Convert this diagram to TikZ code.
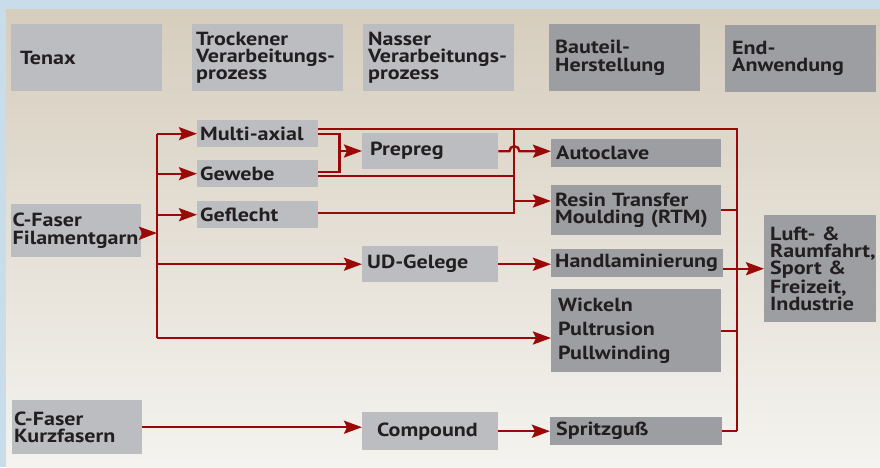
\documentclass[tikz,border=0pt]{standalone}
\usepackage{fontspec}
\setmainfont{PT Sans}[FakeStretch=1.16]
\usetikzlibrary{positioning,arrows.meta}
\definecolor{outerblue}{RGB}{200,220,234}
\definecolor{paneltop}{RGB}{214,205,189}
\definecolor{panelbottom}{RGB}{244,243,239}
\definecolor{boxlight}{RGB}{188,189,193}
\definecolor{boxdark}{RGB}{157,158,162}
\definecolor{textdark}{RGB}{35,31,32}
\definecolor{flowred}{RGB}{155,8,8}
\tikzset{lightbox/.style = {fill=boxlight, anchor=north west, inner ysep=0pt, align=left, text=textdark, font=\fontsize{19}{17.2}\selectfont\bfseries}}
\tikzset{darkbox/.style = {lightbox, fill=boxdark}}
\tikzset{flow/.style = {draw=flowred, line width=2.4pt}}

\begin{document}
\begin{tikzpicture}[x=1pt, y=-1pt, >={Stealth[length=18pt, width=13pt, inset=3pt]}]
  \useasboundingbox (0,0) rectangle (880,467);
  \fill[outerblue] (0,0) rectangle (880,467);
  \shade[top color=paneltop, bottom color=panelbottom] (6,9) rectangle (880,467);

  % Kopfzeile
  \node [lightbox, minimum height=67pt, inner xsep=9pt, text width=133pt] (tx) at (11,24) {Tenax};
  \node [lightbox, minimum height=67pt, inner xsep=4pt, text width=143pt] (tv) at (192,24) {Trockener\\Verarbeitungs-\\prozess};
  \node [lightbox, minimum height=67pt, inner xsep=5pt, text width=141pt] (nv) at (363,24) {Nasser\\Verarbeitungs-\\prozess};
  \node [darkbox, minimum height=67pt, inner xsep=6pt, text width=139pt] (bh) at (549,24) {Bauteil-\\Herstellung};
  \node [darkbox, minimum height=67pt, inner xsep=7pt, text width=137pt] (ea) at (725,25) {End-\\Anwendung};

  % Fasern
  \node [lightbox, minimum height=53pt, inner xsep=1.5pt, text width=127pt] (fg) at (11,204) {C-Faser\\Filamentgarn};
  \node [lightbox, minimum height=54pt, inner xsep=2pt, text width=126pt] (kf) at (12,400) {C-Faser\\Kurzfasern};

  % Halbzeuge
  \node [lightbox, minimum height=27pt, inner xsep=3pt, text width=115pt] (ma) at (197,120) {Multi-axial};
  \node [lightbox, minimum height=27pt, inner xsep=3pt, text width=115pt] (gw) at (197,160) {Gewebe};
  \node [lightbox, minimum height=27pt, inner xsep=3pt, text width=115pt] (gf) at (197,201) {Geflecht};
  \node [lightbox, minimum height=36pt, inner xsep=8pt, text width=120pt] (pp) at (362,133) {Prepreg};
  \node [lightbox, minimum height=36pt, inner xsep=5pt, text width=126pt] (ud) at (362,246) {UD-Gelege};
  \node [lightbox, minimum height=38pt, inner xsep=15pt, text width=106pt] (cp) at (362,412) {Compound};

  % Bauteilherstellung
  \node [darkbox, minimum height=28pt, inner xsep=5pt, text width=160pt] (ac) at (551,139) {Autoclave};
  \node [darkbox, minimum height=50pt, inner xsep=4pt, text width=162pt] (rtm) at (551,185) {Resin Transfer\\Moulding (RTM)};
  \node [darkbox, minimum height=28pt, inner xsep=4pt, text width=164pt] (hl) at (551,249) {Handlaminierung};
  \node [darkbox, minimum height=83pt, inner xsep=7pt, text width=156pt, font=\fontsize{19}{24}\selectfont\bfseries] (wpp) at (551,289) {Wickeln\\Pultrusion\\Pullwinding};
  \node [darkbox, minimum height=28pt, inner xsep=6pt, text width=160pt] (sg) at (550,417) {Spritzguß};
  \node [darkbox, minimum height=107pt, inner xsep=6pt, text width=100pt] (lu) at (764,215) {Luft- \&\\Raumfahrt,\\Sport \&\\Freizeit,\\Industrie};

  \coordinate (sp) at (157,233);
  \coordinate (tb) at (157,338);
  \coordinate (pz) at (339,151);
  \coordinate (mt) at (514,129);
  \coordinate (rz) at (514,201);
  \coordinate (rb) at (737,431);

  % Verteiler links
  \draw[flow, ->] ([yshift=-2.5pt]fg.east) -- (sp);
  \draw[flow] (ma.west -| sp) -- (tb);
  \foreach \n in {ma, gw, gf, ud}
    \draw[flow, ->] (\n.west -| sp) -- (\n.west);
  \draw[flow, ->] (tb) -- (tb -| wpp.west);

  % Prepreg
  \draw[flow] ([yshift=-0.5pt]ma.east) -- ++(21,0) |- ([yshift=1.5pt]gw.east);
  \draw[flow, ->] (pz) -- (pz -| pp.west);

  % RTM und Endanwendung
  \draw[flow] ([yshift=4.5pt]ma.east) -| (rb);
  \draw[flow] ([yshift=-2.5pt]gw.east) -| (mt);
  \draw[flow] ([yshift=2pt]gf.east) -| (mt);
  \draw[flow, ->] (rz) -- (rz -| rtm.west);
  \draw[flow, ->] (pp.east) -- ++(11,0) arc[start angle=180, end angle=0, radius=5pt] -- (pp.east -| ac.west);
  \draw[flow, ->] (ud.east) -- (ud.east -| hl.west);
  \draw[flow, ->] (kf.east) -- (kf.east -| cp.west);
  \draw[flow, ->] (cp.east) -- (cp.east -| sg.west);
  \draw[flow] (rtm.east) -- (rtm.east -| rb);
  \draw[flow] (wpp.east) -- (wpp.east -| rb);
  \draw[flow] (sg.east) -- (sg.east -| rb);
  \draw[flow, ->] (lu.west -| hl.east) -- (lu.west);
\end{tikzpicture}
\end{document}
